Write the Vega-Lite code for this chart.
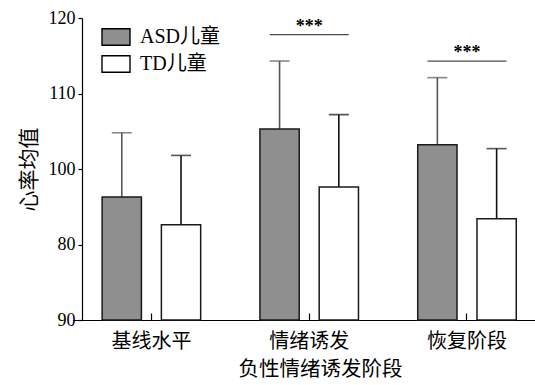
{
  "$schema": "https://vega.github.io/schema/vega-lite/v6.json",
  "width": 453,
  "height": 302,
  "autosize": "none",
  "padding": {"left": 82, "top": 18, "right": 0, "bottom": 65},
  "background": "white",
  "config": {
    "view": {"stroke": null},
    "axis": {"domainColor": "#000", "tickColor": "#000", "labelColor": "#000", "titleColor": "#000", "grid": false, "domainWidth": 1.2, "tickWidth": 1.2},
    "axisY": {"labelFont": "Liberation Serif", "labelFontSize": 18}
  },
  "datasets": {
    "bars": [
      {"phase": "基线水平", "group": "ASD儿童", "mean": 96.3, "upper": 104.8},
      {"phase": "基线水平", "group": "TD儿童", "mean": 92.6, "upper": 101.8},
      {"phase": "情绪诱发", "group": "ASD儿童", "mean": 105.3, "upper": 114.3},
      {"phase": "情绪诱发", "group": "TD儿童", "mean": 97.6, "upper": 107.2},
      {"phase": "恢复阶段", "group": "ASD儿童", "mean": 103.2, "upper": 112.1},
      {"phase": "恢复阶段", "group": "TD儿童", "mean": 93.4, "upper": 102.7}
    ],
    "sig": [
      {"phase": "情绪诱发", "y": 117.8, "label": "***"},
      {"phase": "恢复阶段", "y": 114.3, "label": "***"}
    ]
  },
  "encoding": {
    "x": {
      "field": "phase", "type": "nominal", "sort": ["基线水平", "情绪诱发", "恢复阶段"],
      "scale": {"range": [-9.5, 463.9], "paddingInner": 0, "paddingOuter": 0},
      "axis": {
        "title": "负性情绪诱发阶段", "labelAngle": 0,
        "labelFont": "Noto Sans CJK SC", "labelFontSize": 20, "labelFontWeight": "normal",
        "titleFont": "Noto Sans CJK SC", "titleFontSize": 20.5, "titleFontWeight": "normal",
        "tickSize": -7, "labelPadding": 18, "titlePadding": 8, "titleX": 238
      }
    }
  },
  "layer": [
    {
      "data": {"name": "bars"},
      "mark": {"type": "rule", "strokeWidth": 1.6},
      "encoding": {
        "xOffset": {"field": "group", "type": "nominal", "sort": ["ASD儿童", "TD儿童"], "scale": {"paddingInner": 0.337, "paddingOuter": 0.5}},
        "y": {"field": "mean", "type": "quantitative"},
        "y2": {"field": "upper"},
        "color": {"condition": {"test": "datum.group === 'ASD儿童'", "value": "#555555"}, "value": "#111111"}
      }
    },
    {
      "data": {"name": "bars"},
      "mark": {"type": "tick", "orient": "horizontal", "size": 20, "thickness": 1.6},
      "encoding": {
        "xOffset": {"field": "group", "type": "nominal", "sort": ["ASD儿童", "TD儿童"], "scale": {"paddingInner": 0.337, "paddingOuter": 0.5}},
        "y": {"field": "upper", "type": "quantitative"},
        "color": {"condition": {"test": "datum.group === 'ASD儿童'", "value": "#555555"}, "value": "#111111"}
      }
    },
    {
      "data": {"name": "bars"},
      "mark": {"type": "bar", "stroke": "#1a1a1a", "strokeWidth": 1.5, "opacity": 1},
      "encoding": {
        "xOffset": {"field": "group", "type": "nominal", "sort": ["ASD儿童", "TD儿童"], "scale": {"paddingInner": 0.337, "paddingOuter": 0.5}},
        "y": {
          "field": "mean", "type": "quantitative",
          "scale": {"domain": [80, 120], "zero": false, "nice": false},
          "axis": {
            "title": "心率均值", "values": [80, 90, 100, 110, 120],
            "labelExpr": "datum.value == 80 ? '90' : datum.value == 90 ? '80' : datum.label",
            "titleFont": "Noto Sans CJK SC", "titleFontSize": 21, "titleFontWeight": "normal",
            "tickSize": 4, "labelPadding": 3, "titlePadding": 9
          }
        },
        "y2": {"datum": 80},
        "fill": {
          "field": "group", "type": "nominal",
          "scale": {"domain": ["ASD儿童", "TD儿童"], "range": ["#8f8f8f", "#ffffff"]},
          "legend": {
            "title": null, "orient": "none", "legendX": 19, "legendY": 4,
            "symbolType": "M-1,-0.59H1V0.59H-1Z", "symbolSize": 784,
            "symbolStrokeColor": "#000", "symbolStrokeWidth": 1.4, "symbolOpacity": 1,
            "labelFont": "Liberation Serif, Noto Sans CJK SC", "labelFontSize": 20, "labelColor": "#000",
            "labelOffset": 9, "rowPadding": 0
          }
        }
      }
    },
    {
      "data": {"name": "sig"},
      "mark": {"type": "tick", "orient": "horizontal", "size": 79, "thickness": 1.3, "color": "#000"},
      "encoding": {
        "y": {"field": "y", "type": "quantitative"}
      }
    },
    {
      "data": {"name": "sig"},
      "mark": {"type": "text", "font": "Liberation Serif", "fontSize": 18, "fontWeight": "bold", "baseline": "alphabetic", "dy": -3, "color": "#000"},
      "encoding": {
        "y": {"field": "y", "type": "quantitative"},
        "text": {"field": "label"}
      }
    }
  ]
}
